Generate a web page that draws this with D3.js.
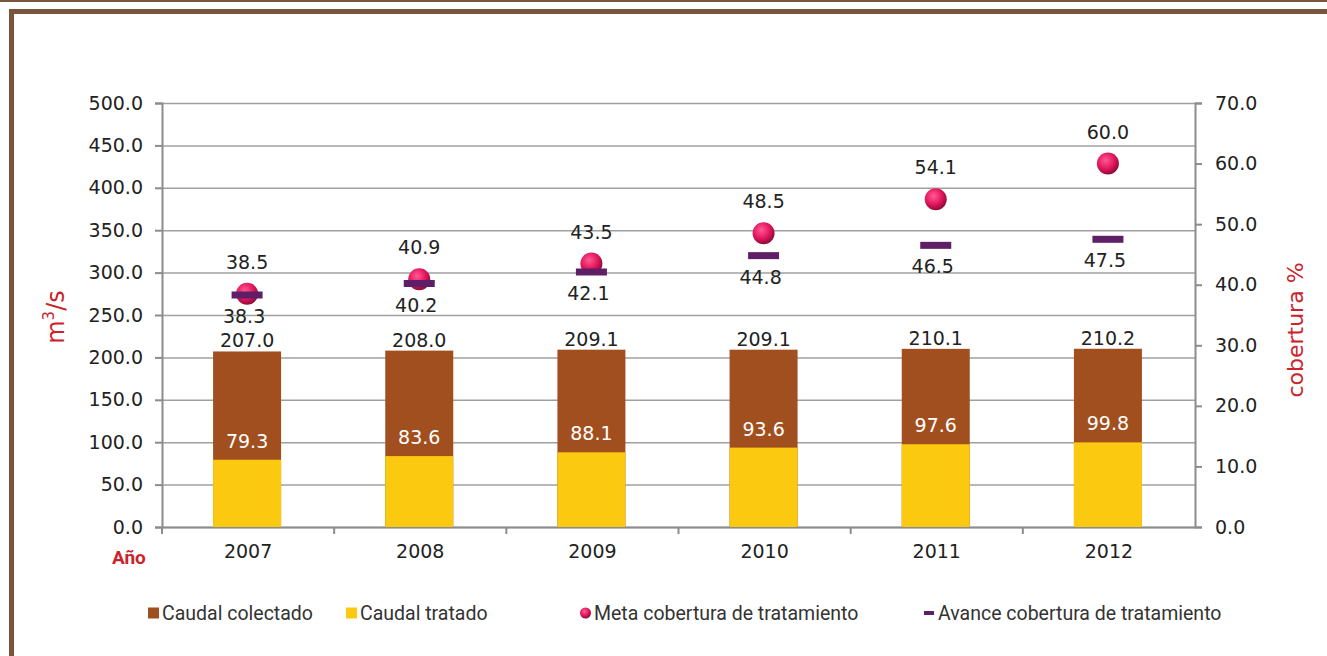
<!DOCTYPE html>
<html>
<head>
<meta charset="utf-8">
<script src="https://cdn.jsdelivr.net/npm/d3@7"></script>
<style>
    body { margin: 0; background: #fff; }
    svg { display: block; }
    .tick text { font-family: "DejaVu Sans", sans-serif; font-size: 19px; fill: #222; }
    .legend text { font-family: "Roboto", sans-serif; font-size: 19.5px; fill: #333; }
</style>
</head>
<body>
<div id="chart"></div>
<script>
    // chart data
    const years = ['2007', '2008', '2009', '2010', '2011', '2012'];
    const caudalColectado = [207.0, 208.0, 209.1, 209.1, 210.1, 210.2];
    const caudalTratado = [79.3, 83.6, 88.1, 93.6, 97.6, 99.8];
    const metaCobertura = [38.5, 40.9, 43.5, 48.5, 54.1, 60.0];
    const avanceCobertura = [38.3, 40.2, 42.1, 44.8, 46.5, 47.5];
    const leftTicks = [0, 50, 100, 150, 200, 250, 300, 350, 400, 450, 500];
    const rightTicks = [0, 10, 20, 30, 40, 50, 60, 70];
    const legendLabels = ['Caudal colectado', 'Caudal tratado', 'Meta cobertura de tratamiento', 'Avance cobertura de tratamiento'];

    const W = 1327, H = 656;
    const margin = { top: 103, right: 132, bottom: 129, left: 162 };
    const width = W - margin.left - margin.right;
    const height = H - margin.top - margin.bottom;

    const colBrown = '#a24f20';
    const colYellow = '#fbc90f';
    const colPink = '#e3165c';
    const colPurple = '#5e1f66';
    const colRed = '#cc2229';

    const root = d3.select('#chart')
        .append('svg')
        .attr('width', W)
        .attr('height', H);

    // frame
    root.append('rect').attr('x', 0).attr('y', 0).attr('width', W).attr('height', 2).attr('fill', '#7a543b');
    root.append('rect').attr('x', 9).attr('y', 9).attr('width', W - 9).attr('height', 5).attr('fill', '#7a543b');
    root.append('rect').attr('x', 9).attr('y', 9).attr('width', 5).attr('height', H - 9).attr('fill', '#7a543b');

    const defs = root.append('defs');
    const grad = defs.append('radialGradient').attr('id', 'ball').attr('cx', '40%').attr('cy', '35%').attr('r', '65%');
    grad.append('stop').attr('offset', '0%').attr('stop-color', '#ff5a94');
    grad.append('stop').attr('offset', '60%').attr('stop-color', colPink);
    grad.append('stop').attr('offset', '100%').attr('stop-color', '#8e0b3a');

    const svg = root.append('g')
        .attr('transform', `translate(${margin.left}, ${margin.top})`);

    const x = d3.scaleBand().domain(years).range([0, width]);
    const y = d3.scaleLinear().domain([0, 500]).range([height, 0]);
    const y2 = d3.scaleLinear().domain([0, 70]).range([height, 0]);

    // gridlines
    svg.append('g')
        .attr('class', 'grid')
        .call(d3.axisLeft(y).tickValues(leftTicks).tickSize(-width).tickFormat(''))
        .call(g => g.select('.domain').remove())
        .call(g => g.selectAll('line').attr('stroke', '#a0a0a0').attr('stroke-width', 1.5));

    // left axis
    svg.append('g')
        .attr('class', 'axis')
        .call(d3.axisLeft(y).tickValues(leftTicks).tickSize(7).tickPadding(12).tickFormat(d3.format('.1f')))
        .call(g => g.selectAll('line, path').attr('stroke', '#8c8c8c').attr('stroke-width', 2));

    // right axis
    svg.append('g')
        .attr('class', 'axis')
        .attr('transform', `translate(${width}, 0)`)
        .call(d3.axisRight(y2).tickValues(rightTicks).tickSize(7).tickPadding(13).tickFormat(d3.format('.1f')))
        .call(g => g.selectAll('line, path').attr('stroke', '#8c8c8c').attr('stroke-width', 2));

    // bottom axis: ticks between categories
    const bottom = svg.append('g')
        .attr('class', 'axis')
        .attr('transform', `translate(0, ${height})`)
        .call(d3.axisBottom(x).tickSize(0).tickPadding(18))
        .call(g => g.select('.domain').attr('stroke', '#8c8c8c').attr('stroke-width', 2));
    bottom.selectAll('.sep')
        .data(years)
        .enter()
        .append('line')
        .attr('x1', d => x(d))
        .attr('x2', d => x(d))
        .attr('y1', 0)
        .attr('y2', 7)
        .attr('stroke', '#8c8c8c')
        .attr('stroke-width', 2);

    const barW = 68;
    const bx = d => x(d) + x.bandwidth() / 2 - barW / 2 - 1;

    // collected bars
    svg.selectAll('.bar-col')
        .data(years)
        .enter()
        .append('rect')
        .attr('x', bx)
        .attr('y', (d, i) => y(caudalColectado[i]))
        .attr('width', barW)
        .attr('height', (d, i) => height - y(caudalColectado[i]))
        .attr('fill', colBrown);

    // treated bars
    svg.selectAll('.bar-tra')
        .data(years)
        .enter()
        .append('rect')
        .attr('x', bx)
        .attr('y', (d, i) => y(caudalTratado[i]))
        .attr('width', barW)
        .attr('height', (d, i) => height - y(caudalTratado[i]))
        .attr('fill', colYellow);

    const cx = d => x(d) + x.bandwidth() / 2 - 1;
    const valueText = (sel) => sel
        .attr('text-anchor', 'middle')
        .style('font-family', '"DejaVu Sans", sans-serif')
        .style('font-size', '19px');

    // labels
    svg.selectAll('.lbl-col')
        .data(years)
        .enter()
        .append('text')
        .attr('x', cx)
        .attr('y', (d, i) => y(caudalColectado[i]) - 4)
        .text((d, i) => caudalColectado[i].toFixed(1))
        .attr('fill', '#222')
        .call(valueText);

    svg.selectAll('.lbl-tra')
        .data(years)
        .enter()
        .append('text')
        .attr('x', cx)
        .attr('y', (d, i) => y(caudalTratado[i]) - 12)
        .text((d, i) => caudalTratado[i].toFixed(1))
        .attr('fill', '#fff')
        .call(valueText);

    // meta markers
    svg.selectAll('.meta')
        .data(years)
        .enter()
        .append('circle')
        .attr('cx', cx)
        .attr('cy', (d, i) => y2(metaCobertura[i]))
        .attr('r', 11)
        .attr('fill', 'url(#ball)');

    // avance markers
    svg.selectAll('.avance')
        .data(years)
        .enter()
        .append('rect')
        .attr('x', d => cx(d) - 15.5)
        .attr('y', (d, i) => y2(avanceCobertura[i]) - 3.5)
        .attr('width', 31)
        .attr('height', 7)
        .attr('fill', colPurple);

    svg.selectAll('.lbl-meta')
        .data(years)
        .enter()
        .append('text')
        .attr('x', cx)
        .attr('y', (d, i) => y2(metaCobertura[i]) - 25)
        .text((d, i) => metaCobertura[i].toFixed(1))
        .attr('fill', '#222')
        .call(valueText);

    svg.selectAll('.lbl-avance')
        .data(years)
        .enter()
        .append('text')
        .attr('x', d => cx(d) - 3)
        .attr('y', (d, i) => y2(avanceCobertura[i]) + 28)
        .text((d, i) => avanceCobertura[i].toFixed(1))
        .attr('fill', '#222')
        .call(valueText);

    // axis titles
    root.append('text')
        .attr('transform', `translate(64, 317) rotate(-90)`)
        .attr('text-anchor', 'middle')
        .style('font-family', '"DejaVu Sans", sans-serif')
        .style('font-size', '24px')
        .attr('fill', colRed)
        .html('m<tspan dy="-10" font-size="15">3</tspan><tspan dy="10">/s</tspan>');

    root.append('text')
        .attr('transform', `translate(1303, 330) rotate(-90)`)
        .attr('text-anchor', 'middle')
        .style('font-family', '"DejaVu Sans", sans-serif')
        .style('font-size', '22px')
        .attr('fill', colRed)
        .text('cobertura %');

    root.append('text')
        .attr('x', 112)
        .attr('y', 564)
        .style('font-family', '"Roboto", sans-serif')
        .style('font-size', '19px')
        .style('font-weight', 'bold')
        .attr('fill', colRed)
        .text('Año');

    // legend
    const legendX = [148, 346, 580, 924];
    const legend = root.append('g').attr('class', 'legend');
    const items = legend.selectAll('g')
        .data(legendLabels)
        .enter()
        .append('g')
        .attr('transform', (d, i) => `translate(${legendX[i]}, 613)`);

    items.each(function (d, i) {
        const g = d3.select(this);
        if (i < 2) {
            g.append('rect').attr('x', 0).attr('y', -5.5).attr('width', 11).attr('height', 11)
                .attr('fill', i === 0 ? colBrown : colYellow);
        } else if (i === 2) {
            g.append('circle').attr('cx', 5.5).attr('cy', 0).attr('r', 5.5).attr('fill', 'url(#ball)');
        } else {
            g.append('rect').attr('x', 0).attr('y', -2).attr('width', 10).attr('height', 4).attr('fill', colPurple);
        }
        g.append('text').attr('x', 14).attr('y', 7).text(d);
    });
</script>
</body>
</html>
